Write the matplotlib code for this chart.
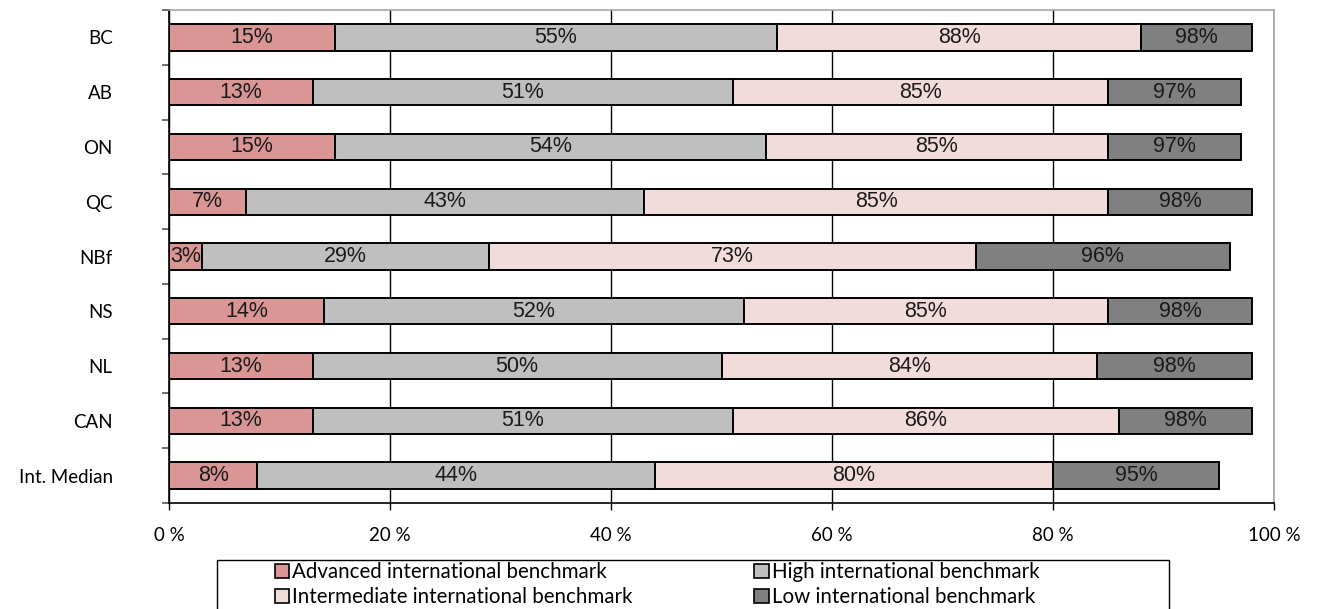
import numpy as np
import matplotlib.pyplot as plt
from matplotlib.patches import Rectangle, Patch

# data: cumulative share reaching each benchmark (%)
regions = ["BC", "AB", "ON", "QC", "NBf", "NS", "NL", "CAN", "Int. Median"]
advanced = [15, 13, 15, 7, 3, 14, 13, 13, 8]
high = [55, 51, 54, 43, 29, 52, 50, 51, 44]
intermediate = [88, 85, 85, 85, 73, 85, 84, 86, 80]
low = [98, 97, 97, 98, 96, 98, 98, 98, 95]

series_names = ["Advanced international benchmark", "High international benchmark",
                "Intermediate international benchmark", "Low international benchmark"]
xtick_vals = [0, 20, 40, 60, 80, 100]
xtick_labels = ["0 %", "20 %", "40 %", "60 %", "80 %", "100 %"]

colors = ["#D99694", "#BFBFBF", "#F2DCDB", "#808080"]
LABEL_FONT = "Lato"
BAR_FONT = "Liberation Sans"

fig = plt.figure(figsize=(13.19, 6.09), dpi=100)
ax = fig.add_axes([169 / 1319, 1 - 503 / 609, (1274 - 169) / 1319, (503 - 10) / 609])

y = np.arange(len(regions))
cum = np.array([advanced, high, intermediate, low], dtype=float)
starts = np.vstack([np.zeros(len(regions)), cum[:-1]])
widths = cum - starts

ax.set_axisbelow(True)
for k in range(4):
    ax.barh(y, widths[k], left=starts[k], height=0.48, color=colors[k],
            edgecolor="black", linewidth=1.4, zorder=3)
    for i in range(len(regions)):
        ax.text(starts[k][i] + widths[k][i] / 2, y[i], f"{int(cum[k][i])}%",
                ha="center", va="center", fontsize=15.5, family=BAR_FONT,
                color="#1a1a1a", zorder=4)

ax.set_xlim(0, 100)
ax.set_ylim(len(regions) - 0.5, -0.5)

ax.set_xticks(xtick_vals)
ax.set_xticklabels(xtick_labels, family=LABEL_FONT, fontsize=13.5)
ax.set_yticks(y)
ax.set_yticklabels(regions, family=LABEL_FONT, fontsize=13.5)
ax.tick_params(axis="y", which="major", length=0, pad=40.5)
ax.set_yticks(np.arange(len(regions) + 1) - 0.5, minor=True)
ax.tick_params(axis="y", which="minor", length=5, width=1.2, color="#555555")
ax.tick_params(axis="x", length=5, width=1.0, pad=12, color="black")
for lab in ax.get_yticklabels():
    lab.set_horizontalalignment("right")

ax.grid(axis="x", color="black", linewidth=1.0, zorder=0)
ax.spines["left"].set_color("black")
ax.spines["bottom"].set_color("black")
ax.spines["top"].set_color("#a6a6a6")
ax.spines["right"].set_color("#a6a6a6")
for s in ax.spines.values():
    s.set_linewidth(1.2)

# legend frame (cut by figure bottom like the original)
fig.patches.append(Rectangle((217 / 1319, -0.05), (1169 - 217) / 1319, 0.05 + 1 - 560 / 609,
                             transform=fig.transFigure, fill=False, edgecolor="black",
                             linewidth=1.0))
order = [0, 2, 1, 3]
handles = [Patch(facecolor=colors[k], edgecolor="black", linewidth=1.2) for k in order]
fig.legend(handles, [series_names[k] for k in order], ncol=2, frameon=False,
           loc="upper left", bbox_to_anchor=(275 / 1319, 1 - 562 / 609),
           borderpad=0, borderaxespad=0, handlelength=0.7, handleheight=0.7,
           handletextpad=0.15, labelspacing=0.26, columnspacing=5.9,
           prop={"family": LABEL_FONT, "size": 14.8})

fig.savefig("out.png", dpi=100)
